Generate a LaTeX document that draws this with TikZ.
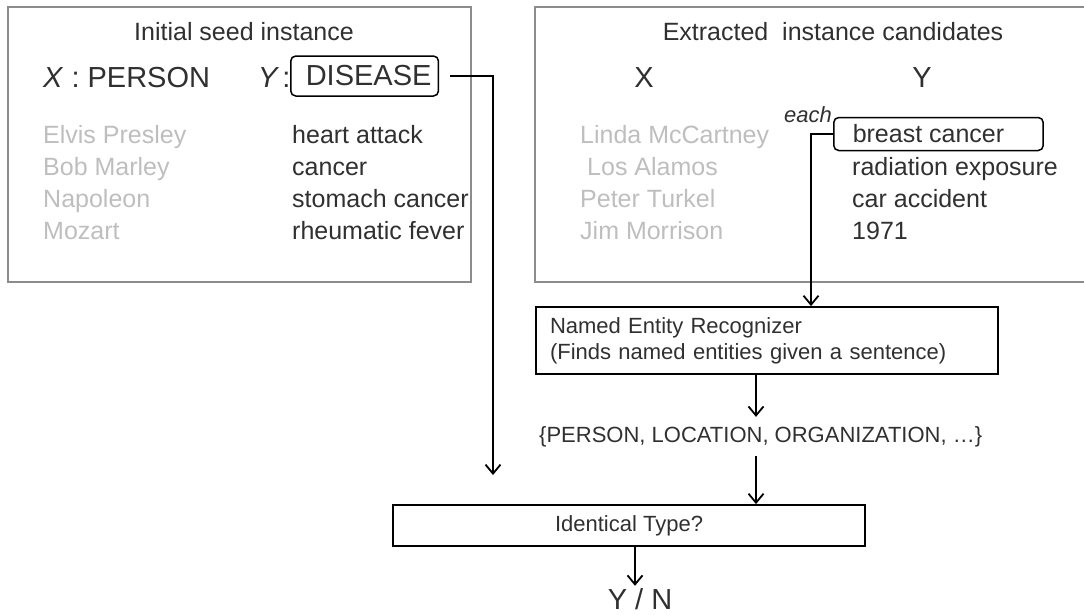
\documentclass[tikz,border=0pt]{standalone}
\usepackage{fontspec}
\setmainfont{Liberation Sans}
\usetikzlibrary{arrows.meta}

\definecolor{ink}{HTML}{303030}
\definecolor{faded}{HTML}{BEBEBE}
\definecolor{frame}{HTML}{8C8C8C}

\newcommand*{\bigfont}{\fontsize{29}{34}\selectfont}
\newcommand*{\midfont}{\fontsize{25}{30}\selectfont}
\newcommand*{\smallfont}{\fontsize{22}{26}\selectfont}

\begin{document}
\begin{tikzpicture}
[
	x=1pt,
	y=-1pt,
	every node/.style={text=ink},
	panel/.style={draw=frame,line width=1.5pt},
	pick/.style={draw=black,rounded corners=5pt,line width=1.5pt,inner xsep=7pt,inner ysep=0pt,anchor=west},
	stage/.style={draw=black,line width=1.8pt,inner sep=0pt},
	entry/.style={anchor=base west,inner sep=0pt,font=\midfont},
	flow/.style={draw=black,line width=1.8pt,-{Straight Barb[length=9pt,width=15pt]}}
]

	% page
	\useasboundingbox (0,0) rectangle (1084,614);
	\clip (0,0) rectangle (1084,614);

	% seed panel
	\draw[panel] (8,7) rectangle (471,282);
	\node[anchor=base,font=\midfont] (seedtitle) at (244,40) {Initial seed instance};
	\node[anchor=base west,inner sep=0pt,font=\bigfont] (xtype) at (43,87) {\textit{X} : PERSON};
	\node[anchor=base west,inner sep=0pt,font=\bigfont] (ylabel) at (258,87) {\textit{Y}\hspace{3pt}:};
	\node[pick,font=\bigfont,minimum height=40pt] (disease) at (290,76) {\hspace*{8pt}DISEASE};
	\foreach \who/\cause [count=\i] in {Elvis Presley/heart attack,Bob Marley/cancer,Napoleon/stomach cancer,Mozart/rheumatic fever} {
		\node[entry,text=faded] (seedx\i) at (43,111+32*\i) {\who};
		\node[entry] (seedy\i) at (292,111+32*\i) {\cause};
	}

	% candidate panel
	\draw[panel] (535,7) rectangle (1100,282);
	\node[anchor=base,font=\midfont] (candtitle) at (833,40) {Extracted\ \ instance candidates};
	\node[anchor=base,font=\bigfont] (xhead) at (644,87) {X};
	\node[anchor=base,font=\bigfont] (yhead) at (922,87) {Y};
	\node[pick,font=\midfont,minimum height=33pt] (cand) at (833,134) {\hspace*{12pt}breast cancer\hspace*{32pt}};
	\node[anchor=base east,inner sep=0pt,font=\smallfont\itshape] (each) at (832,122) {each};
	\foreach \who/\px [count=\i] in {Linda McCartney/580,Los Alamos/587,Peter Turkel/580,Jim Morrison/580} {
		\node[entry,text=faded] (candx\i) at (\px,111+32*\i) {\who};
	}
	\foreach \cause [count=\i from 2] in {radiation exposure,car accident,1971} {
		\node[entry] (candy\i) at (852,111+32*\i) {\cause};
	}

	% pipeline
	\node[stage,font=\smallfont,minimum width=462pt,minimum height=67pt,align=left,text width=434pt] (ner) at (767,340.5)
	  {Named Entity Recognizer\\(Finds named entities given a sentence)};
	\node[anchor=base west,font=\smallfont,inner xsep=0pt,inner ysep=9pt] (types) at (539,442)
	  {\{PERSON, LOCATION, ORGANIZATION, …\}};
	\node[stage,font=\smallfont,minimum width=472pt,minimum height=41pt] (ident) at (629,525.5) {Identical Type?};
	\node[anchor=base,font=\bigfont,inner sep=2pt] (yn) at (640,609) {Y / N};

	% connectors
	\coordinate (seedout) at ([xshift=11pt]disease.east);
	\coordinate (seedend) at (493,475);
	\draw[flow] (seedout) -| (seedend);

	\coordinate (turn) at (811,0);
	\draw[flow] (cand.west) -- (cand.west -| turn) -- (turn |- ner.north);

	\coordinate (spine) at (756,0);
	\draw[flow] (ner.south -| spine) -- (types.north -| spine);
	\draw[flow] (types.south -| spine) -- (ident.north -| spine);

	\draw[flow] ([xshift=-5pt]yn.north |- ident.south) -- ([xshift=-5pt]yn.north);

\end{tikzpicture}
\end{document}
